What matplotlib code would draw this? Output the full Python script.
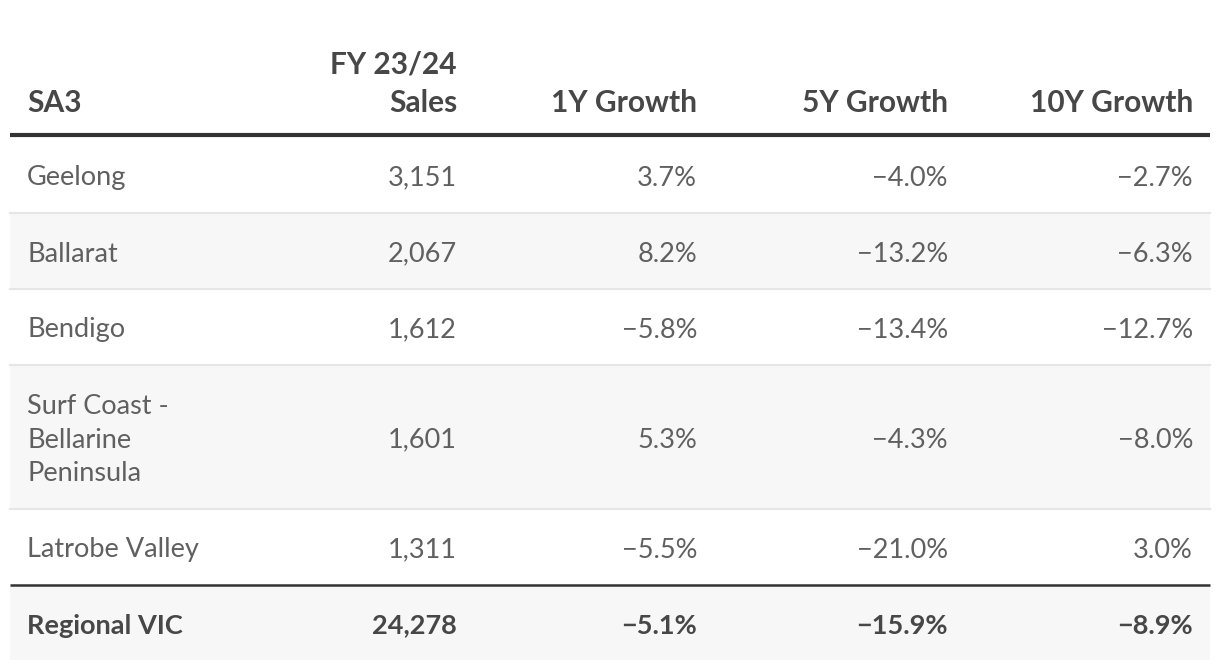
import matplotlib.pyplot as plt
from matplotlib.patches import Rectangle

plt.rcParams["font.family"] = ["Lato", "DejaVu Sans"]

# table content
regions = ["Geelong", "Ballarat", "Bendigo", "Surf Coast -\nBellarine\nPeninsula", "Latrobe Valley"]
sales = [3151, 2067, 1612, 1601, 1311]
growth_1y = [3.7, 8.2, -5.8, 5.3, -5.5]
growth_5y = [-4.0, -13.2, -13.4, -4.3, -21.0]
growth_10y = [-2.7, -6.3, -12.7, -8.0, 3.0]

total_label = "Regional VIC"
total_sales = 24278
total_growth = [-5.1, -15.9, -8.9]

headers = ["SA3", "FY 23/24\nSales", "1Y Growth", "5Y Growth", "10Y Growth"]

# layout in pixels
W, H = 1220, 670
left, right = 10, 1210
col_x = [27, 457, 697, 948, 1193]
row_edges = [137, 213, 289, 365, 509, 585, 660]

TXT = "#606060"
HDR = "#474747"
FS_HDR = 21.5
FS_BODY = 19.5


def pct(v):
    s = f"{abs(v):.1f}%"
    return ("\u2212" + s) if v < 0 else s


fig = plt.figure(figsize=(W / 100, H / 100), dpi=100)
ax = fig.add_axes([0, 0, 1, 1])
ax.set_xlim(0, W)
ax.set_ylim(H, 0)
ax.axis("off")

# header
for i, h in enumerate(headers):
    ha = "left" if i == 0 else "right"
    ax.text(col_x[i], 112, h, ha=ha, va="baseline", fontsize=FS_HDR,
            fontweight="bold", color=HDR, linespacing=1.45)
ax.plot([left, right], [135, 135], color="#333333", lw=3, solid_capstyle="butt")

# body rows
for r, name in enumerate(regions):
    top, bot = row_edges[r], row_edges[r + 1]
    if r % 2 == 1:
        ax.add_patch(Rectangle((left, top), right - left, bot - top,
                               facecolor="#f7f7f7", edgecolor="none"))
    if r < len(regions) - 1:
        ax.plot([left, right], [bot, bot], color="#e6e6e6", lw=1.5)
    yc = (top + bot) / 2 + 3
    vals = [f"{sales[r]:,}", pct(growth_1y[r]), pct(growth_5y[r]), pct(growth_10y[r])]
    ax.text(col_x[0], yc, name, ha="left", va="center", fontsize=FS_BODY,
            color=TXT, linespacing=1.43)
    for c, v in enumerate(vals):
        ax.text(col_x[c + 1], yc, v, ha="right", va="center", fontsize=FS_BODY,
                color=TXT)

# total row
top, bot = row_edges[-2], row_edges[-1]
ax.add_patch(Rectangle((left, top), right - left, bot - top,
                       facecolor="#f7f7f7", edgecolor="none"))
ax.plot([left, right], [top, top], color="#333333", lw=1.8, solid_capstyle="butt")
yc = (top + bot) / 2 + 3
tvals = [f"{total_sales:,}"] + [pct(v) for v in total_growth]
ax.text(col_x[0], yc, total_label, ha="left", va="center", fontsize=FS_BODY,
        fontweight="bold", color=HDR)
for c, v in enumerate(tvals):
    ax.text(col_x[c + 1], yc, v, ha="right", va="center", fontsize=FS_BODY,
            fontweight="bold", color=HDR)

fig.savefig("out.png", dpi=100, facecolor="white")
